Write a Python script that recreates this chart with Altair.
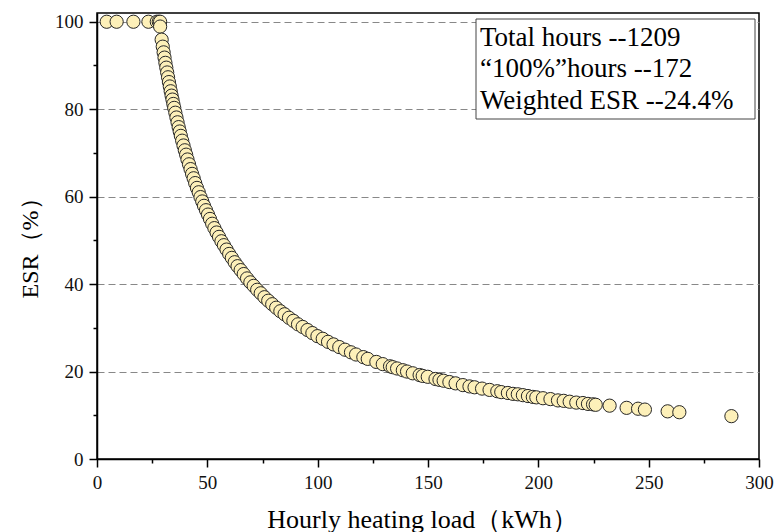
import altair as alt
import pandas as pd

# Hourly heating load (kWh)
load_kwh = [
    4.4, 8.9, 16.5, 23.3, 27.1, 28.0, 28.6, 28.6,
    29.3, 29.8, 30.2, 30.6, 31.0, 31.4, 31.8, 32.2, 32.6, 33.0, 33.4, 33.8,
    34.2, 34.6, 35.0, 35.5, 36.0, 36.5, 37.0, 37.5, 38.0, 38.6, 39.2, 39.8,
    40.4, 41.0, 41.7, 42.4, 43.1, 43.8, 44.5, 45.3, 46.1, 46.9, 47.7, 48.5,
    49.4, 50.3, 51.2, 52.2, 53.2, 54.2, 55.3, 56.4, 57.5, 58.7, 59.9, 61.1,
    62.4, 63.7, 65.1, 66.5, 68.0, 69.5, 71.0, 72.6, 74.2, 75.9, 77.6, 79.4,
    81.2, 83.1, 85.0, 87.0, 89.0, 91.1, 93.2, 95.4, 97.6, 99.9, 102.3, 104.7,
    107.2, 109.8, 112.4, 115.1, 117.4, 120.7, 122.7, 126.6, 129.5, 132.8,
    134.0, 136.0, 138.6, 140.5, 143.1, 146.2, 147.6, 149.9, 153.4, 155.2,
    157.1, 159.7, 162.5, 165.8, 168.8, 171.1, 174.5, 177.9, 181.4, 183.2,
    186.2, 188.5, 190.7, 193.0, 195.3, 197.5, 199.1, 202.1, 205.5, 208.9,
    211.5, 214.2, 217.2, 220.2, 222.5, 224.8, 226.0, 232.3, 240.0, 245.2,
    248.3, 258.6, 263.9, 287.5,
]
# ESR (%)
esr_pct = [
    100, 100, 100, 100, 100, 100, 100, 98.9,
    95.9, 94.3, 93.0, 91.8, 90.6, 89.5, 88.4, 87.3, 86.2, 85.2, 84.1, 83.1,
    82.2, 81.2, 80.3, 79.2, 78.1, 77.0, 75.9, 74.9, 73.9, 72.8, 71.7, 70.6,
    69.6, 68.5, 67.4, 66.3, 65.2, 64.2, 63.1, 62.0, 61.0, 59.9, 58.9, 57.9,
    56.9, 55.9, 54.9, 53.8, 52.8, 51.8, 50.8, 49.8, 48.9, 47.9, 46.9, 46.0,
    45.0, 44.1, 43.2, 42.3, 41.3, 40.4, 39.6, 38.7, 37.9, 37.0, 36.2, 35.4,
    34.6, 33.8, 33.1, 32.3, 31.6, 30.8, 30.2, 29.5, 28.8, 28.1, 27.5, 26.8,
    26.2, 25.6, 25.0, 24.4, 23.9, 23.3, 22.9, 22.2, 21.7, 21.2,
    21.0, 20.7, 20.3, 20.0, 19.6, 19.2, 19.0, 18.8, 18.3, 18.1,
    17.9, 17.6, 17.3, 16.9, 16.6, 16.4, 16.1, 15.8, 15.5, 15.3,
    15.1, 14.9, 14.8, 14.6, 14.4, 14.2, 14.1, 13.9, 13.7, 13.4,
    13.3, 13.1, 12.9, 12.8, 12.6, 12.5, 12.4, 12.2, 11.7, 11.5,
    11.3, 10.9, 10.7, 9.8,
]

x_tick_values = [0, 25, 50, 75, 100, 125, 150, 175, 200, 225, 250, 275, 300]
y_tick_values = [0, 10, 20, 30, 40, 50, 60, 70, 80, 90, 100]
box_lines = ["Total hours --1209", "\u201c100%\u201dhours --172", "Weighted ESR --24.4%"]

FONT = "Liberation Serif"

df = pd.DataFrame({"load": load_kwh, "esr": esr_pct})
dummy = pd.DataFrame({"k": [0]})

points = alt.Chart(df).mark_circle(
    size=175, fill="#FDF0B9", fillOpacity=1, stroke="#262626", strokeWidth=1, strokeOpacity=1
).encode(
    x=alt.X(
        "load:Q",
        scale=alt.Scale(domain=[0, 300], nice=False, zero=False),
        axis=alt.Axis(
            values=x_tick_values,
            labelExpr="datum.value % 50 === 0 ? datum.label : ''",
            tickSize={"condition": {"test": "datum.value % 50 === 0", "value": 8}, "value": 4},
            grid=False,
            labelFlush=False,
            labelOverlap=False,
            labelPadding=6,
            title="Hourly heating load\uff08kWh\uff09",
            titleFontSize=26,
            titleX=325,
            titleY=68,
            titleAlign="center",
            titleBaseline="alphabetic",
        ),
    ),
    y=alt.Y(
        "esr:Q",
        scale=alt.Scale(domain=[0, 102], nice=False, zero=False),
        axis=alt.Axis(
            values=y_tick_values,
            labelExpr="datum.value % 20 === 0 ? datum.label : ''",
            tickSize={"condition": {"test": "datum.value % 20 === 0", "value": 8}, "value": 4},
            grid=True,
            gridDash=[7, 4],
            gridColor="#888888",
            gridWidth=1,
            gridOpacity={"condition": {"test": "datum.value % 20 === 0 && datum.value > 0", "value": 1}, "value": 0},
            labelOverlap=False,
            labelPadding=6,
            title="ESR\uff08%\uff09",
            titleFontSize=24,
            titleX=-60,
            titleY=229,
            titleAlign="center",
            titleBaseline="alphabetic",
        ),
    ),
)

box = alt.Chart(dummy).mark_rect(fill="white", stroke="#444444", strokeWidth=1).encode(
    x=alt.value(379), x2=alt.value(658), y=alt.value(6), y2=alt.value(106)
)

baselines = [33, 64, 96]
texts = [
    alt.Chart(dummy).mark_text(
        text=line, align="left", baseline="alphabetic", font=FONT, fontSize=27, color="black"
    ).encode(x=alt.value(383), y=alt.value(b))
    for line, b in zip(box_lines, baselines)
]

chart = alt.layer(points, box, *texts).properties(
    width=662,
    height=446,
    padding={"left": 97, "top": 13, "right": 17, "bottom": 73},
    autosize=alt.AutoSizeParams(type="none"),
    background="white",
).configure_view(
    stroke="black", strokeWidth=1.5
).configure_axis(
    domainColor="black",
    domainWidth=1.5,
    tickColor="black",
    tickWidth=1.5,
    labelFont=FONT,
    labelFontSize=19,
    labelColor="#111111",
    titleFont=FONT,
    titleFontWeight="normal",
    titleColor="black",
)

chart.save("out.html", embed_options={"renderer": "svg", "actions": False})
